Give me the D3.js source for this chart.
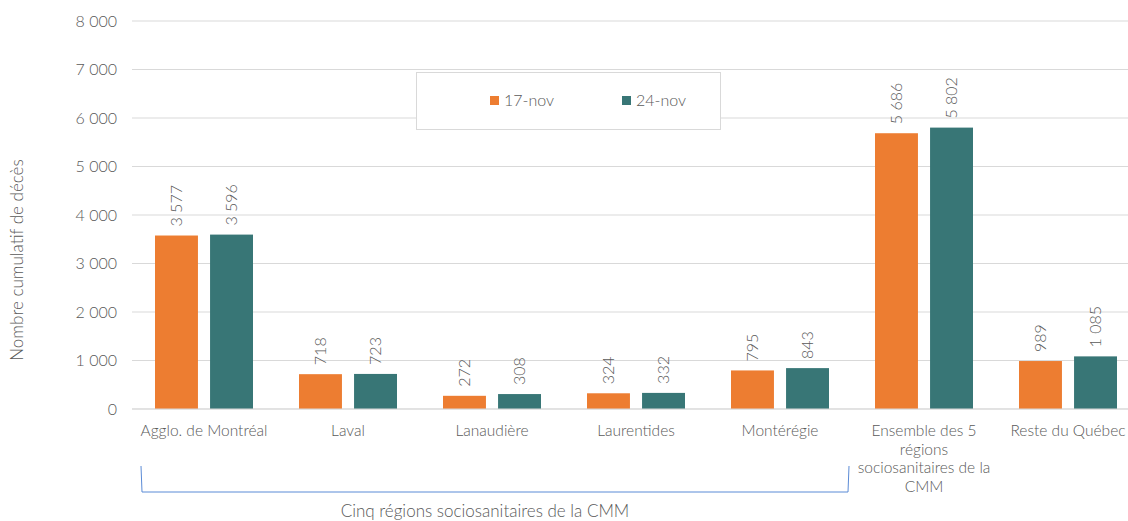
<!DOCTYPE html>
<html>
<head>
<meta charset="utf-8">
<script src="https://cdn.jsdelivr.net/npm/d3@7"></script>
<style>
  body { margin: 0; background: #fff; }
  text { font-family: Lato, "Open Sans", sans-serif; font-weight: 300; fill: #595959; }
</style>
</head>
<body>
<div id="chart"></div>
<script>
var svgWidth = 1128;
var svgHeight = 521;

var categories = [
  ["Agglo. de Montréal"],
  ["Laval"],
  ["Lanaudière"],
  ["Laurentides"],
  ["Montérégie"],
  ["Ensemble des 5", "régions", "sociosanitaires de la", "CMM"],
  ["Reste du Québec"]
];
var seriesNames = ["17-nov", "24-nov"];
var nov17 = [3577, 718, 272, 324, 795, 5686, 989];
var nov24 = [3596, 723, 308, 332, 843, 5802, 1085];
var yTicks = [0, 1000, 2000, 3000, 4000, 5000, 6000, 7000, 8000];
var colors = ["#ED7D31", "#387676"];

var fmt = function(v) { return d3.format(",")(v).replace(",", "\u00a0"); };

var svg = d3.select("#chart")
  .append("svg")
  .attr("width", svgWidth)
  .attr("height", svgHeight);

var x0 = d3.scaleBand()
  .domain(d3.range(categories.length))
  .range([132, 1140]);

var x1 = d3.scaleBand()
  .domain([0, 1])
  .range([23, 121])
  .paddingInner(0.22);

var y = d3.scaleLinear()
  .domain([0, 8000])
  .range([409, 21]);

// gridlines + y labels
svg.append("g")
  .selectAll("line")
  .data(yTicks)
  .enter()
  .append("line")
  .attr("x1", 132)
  .attr("x2", 1128)
  .attr("y1", d => y(d))
  .attr("y2", d => y(d))
  .attr("stroke", "#d9d9d9")
  .attr("stroke-width", 1);

svg.append("g")
  .selectAll("text")
  .data(yTicks)
  .enter()
  .append("text")
  .attr("x", 117)
  .attr("y", d => y(d) + 5.5)
  .attr("text-anchor", "end")
  .style("font-size", "16px")
  .text(d => fmt(d));

svg.append("text")
  .attr("transform", "translate(23,260) rotate(-90)")
  .attr("text-anchor", "middle")
  .style("font-size", "17px")
  .text("Nombre cumulatif de décès");

// bars
var series = [nov17, nov24];
series.forEach(function(vals, s) {
  svg.append("g")
    .selectAll("rect")
    .data(vals)
    .enter()
    .append("rect")
    .attr("x", (d, i) => x0(i) + x1(s))
    .attr("y", d => y(d))
    .attr("width", x1.bandwidth())
    .attr("height", d => y(0) - y(d))
    .attr("fill", colors[s]);

  svg.append("g")
    .selectAll("text")
    .data(vals)
    .enter()
    .append("text")
    .attr("transform", (d, i) => "translate(" + (x0(i) + x1(s) + x1.bandwidth() / 2 + 5.5) + "," + (y(d) - 9) + ") rotate(-90)")
    .style("font-size", "16px")
    .text(d => fmt(d));
});

// baseline
svg.append("line")
  .attr("x1", 132).attr("x2", 1128)
  .attr("y1", y(0)).attr("y2", y(0))
  .attr("stroke", "#d9d9d9");

// x labels
categories.forEach(function(lines, i) {
  var t = svg.append("text")
    .attr("text-anchor", "middle")
    .style("font-size", "15.5px");
  lines.forEach(function(l, k) {
    t.append("tspan")
      .attr("x", x0(i) + x0.bandwidth() / 2)
      .attr("y", 436 + k * 18.5)
      .text(l);
  });
});

// bracket
svg.append("path")
  .attr("d", "M141,466 L142,492 L848,492 L849,466")
  .attr("fill", "none")
  .attr("stroke", "#5B8BD6")
  .attr("stroke-width", 1);

svg.append("text")
  .attr("x", 485)
  .attr("y", 517)
  .attr("text-anchor", "middle")
  .style("font-size", "17px")
  .text("Cinq régions sociosanitaires de la CMM");

// legend
var legend = svg.append("g");
legend.append("rect")
  .attr("x", 416.5).attr("y", 72.5)
  .attr("width", 304).attr("height", 57)
  .attr("fill", "#fff")
  .attr("stroke", "#d9d9d9");
var legendX = [490, 622];
seriesNames.forEach(function(n, i) {
  legend.append("rect")
    .attr("x", legendX[i]).attr("y", 96)
    .attr("width", 9).attr("height", 9)
    .attr("fill", colors[i]);
  legend.append("text")
    .attr("x", legendX[i] + 14).attr("y", 106)
    .style("font-size", "16px")
    .text(n);
});
</script>
</body>
</html>
